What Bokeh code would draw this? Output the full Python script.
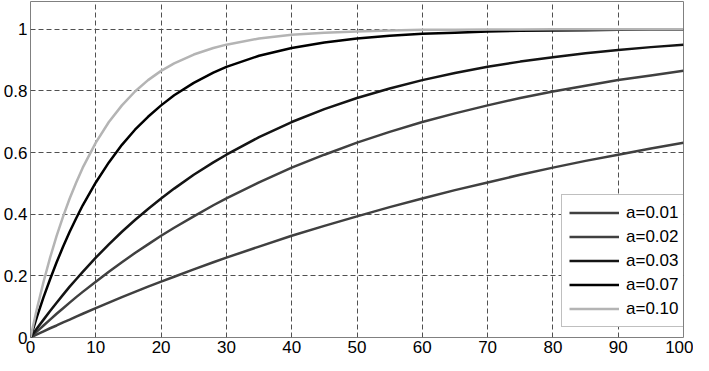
from bokeh.plotting import figure
from bokeh.models import Range1d, FixedTicker, Legend, LegendItem
from bokeh.embed import file_html
from bokeh.resources import INLINE

x = [0, 1, 2, 3, 4, 5, 6, 7, 8, 10, 12, 14, 16, 18, 20, 22, 25, 28, 30, 35, 40,
     45, 50, 55, 60, 65, 70, 75, 80, 85, 90, 95, 100]

y_a001 = [0, 0.010, 0.020, 0.030, 0.039, 0.049, 0.058, 0.068, 0.077, 0.095, 0.113,
          0.131, 0.148, 0.165, 0.181, 0.197, 0.221, 0.244, 0.259, 0.295, 0.330,
          0.362, 0.393, 0.423, 0.451, 0.478, 0.503, 0.528, 0.551, 0.573, 0.593,
          0.613, 0.632]
y_a002 = [0, 0.020, 0.039, 0.058, 0.077, 0.095, 0.113, 0.131, 0.148, 0.181, 0.213,
          0.244, 0.274, 0.302, 0.330, 0.356, 0.393, 0.429, 0.451, 0.503, 0.551,
          0.593, 0.632, 0.667, 0.699, 0.727, 0.753, 0.777, 0.798, 0.817, 0.835,
          0.850, 0.865]
y_a003 = [0, 0.030, 0.058, 0.086, 0.113, 0.139, 0.165, 0.189, 0.213, 0.259, 0.302,
          0.343, 0.381, 0.417, 0.451, 0.483, 0.528, 0.568, 0.593, 0.650, 0.699,
          0.741, 0.777, 0.808, 0.835, 0.858, 0.878, 0.895, 0.909, 0.922, 0.933,
          0.942, 0.950]
y_a007 = [0, 0.068, 0.131, 0.189, 0.244, 0.295, 0.343, 0.387, 0.429, 0.503, 0.568,
          0.625, 0.674, 0.716, 0.753, 0.786, 0.826, 0.859, 0.878, 0.914, 0.939,
          0.957, 0.970, 0.979, 0.985, 0.989, 0.993, 0.995, 0.996, 0.997, 0.998,
          0.999, 0.999]
y_a010 = [0, 0.095, 0.181, 0.259, 0.330, 0.393, 0.451, 0.503, 0.551, 0.632, 0.699,
          0.753, 0.798, 0.835, 0.865, 0.889, 0.918, 0.939, 0.950, 0.970, 0.982,
          0.989, 0.993, 0.996, 0.998, 0.998, 0.999, 0.999, 1.000, 1.000, 1.000,
          1.000, 1.000]

labels = ["a=0.01", "a=0.02", "a=0.03", "a=0.07", "a=0.10"]
series = [y_a001, y_a002, y_a003, y_a007, y_a010]
colors = ["#404040", "#404040", "#141414", "#000000", "#b4b4b4"]

x_ticks = [0, 10, 20, 30, 40, 50, 60, 70, 80, 90, 100]
y_ticks = [0, 0.2, 0.4, 0.6, 0.8, 1]

FONT = "Liberation Sans"

p = figure(width=693, height=355, output_backend="svg", toolbar_location=None,
           x_range=Range1d(0, 100), y_range=Range1d(0, 1.09),
           min_border_left=27, min_border_right=10, min_border_top=1,
           min_border_bottom=0)
p.background_fill_color = "white"
p.border_fill_color = "white"
p.outline_line_color = "#808080"
p.outline_line_width = 1

for ax in (p.xaxis[0], p.yaxis[0]):
    ax.axis_line_color = None
    ax.major_tick_line_color = None
    ax.minor_tick_line_color = None
    ax.major_tick_out = 0
    ax.major_tick_in = 0
    ax.minor_tick_out = 0
    ax.minor_tick_in = 0
    ax.major_label_text_font = FONT
    ax.major_label_text_font_size = "17px"
    ax.major_label_text_color = "black"
    ax.major_label_standoff = 3

p.xaxis[0].ticker = FixedTicker(ticks=x_ticks)
p.yaxis[0].ticker = FixedTicker(ticks=y_ticks)
p.yaxis[0].major_label_overrides = {0: "0", 1: "1"}

for g in (p.xgrid[0], p.ygrid[0]):
    g.grid_line_color = "#505050"
    g.grid_line_dash = "5 3"
    g.grid_line_width = 1
p.xgrid[0].ticker = FixedTicker(ticks=x_ticks)
p.ygrid[0].ticker = FixedTicker(ticks=y_ticks)

items = []
for lab, ys, c in zip(labels, series, colors):
    r = p.line(x, ys, line_color=c, line_width=2.5)
    items.append(LegendItem(label=lab, renderers=[r]))

legend = Legend(items=items, location=(531, 10))
legend.label_text_font = FONT
legend.label_text_font_size = "17px"
legend.label_text_color = "black"
legend.border_line_color = "#808080"
legend.border_line_width = 1
legend.background_fill_color = "white"
legend.background_fill_alpha = 1
legend.glyph_width = 50
legend.glyph_height = 21
legend.label_height = 21
legend.spacing = 3
legend.padding = 7
legend.margin = 0
legend.label_standoff = 7
p.add_layout(legend, "center")

open("out.html", "w").write(file_html(p, INLINE))
